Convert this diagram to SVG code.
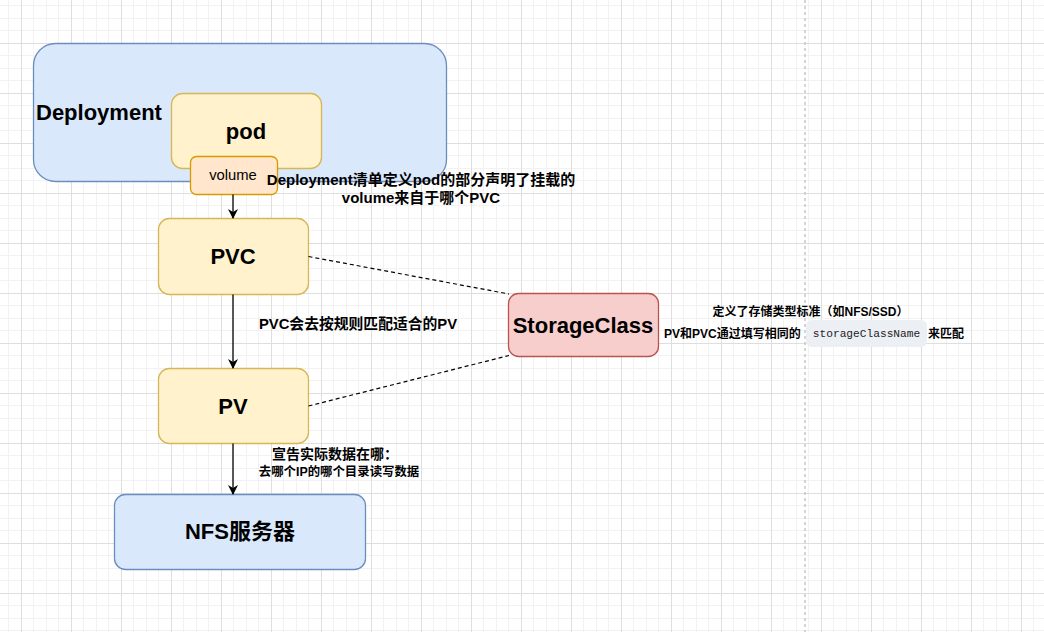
<svg xmlns="http://www.w3.org/2000/svg" width="1044" height="632" viewBox="0 0 1044 632">
  <style>
    .t { font-family: "Liberation Sans", "Noto Sans CJK SC", sans-serif; fill: #000; }
    .title { font-size: 22px; font-weight: bold; }
    .lbl { font-weight: bold; }
    .mono { font-family: "Liberation Mono", "DejaVu Sans Mono", monospace; fill: #1f2329; font-size: 11.2px; }
    .edge { stroke: #000; stroke-width: 1.3; fill: none; }
    .dash { stroke: #000; stroke-width: 1.2; fill: none; stroke-dasharray: 4 3; }
    .blue { fill: #dae8fc; stroke: #6c8ebf; stroke-width: 1.3; }
    .yellow { fill: #fff2cc; stroke: #d6b656; stroke-width: 1.3; }
    .orange { fill: #ffe6cc; stroke: #d79b00; stroke-width: 1.3; }
    .red { fill: #f8cecc; stroke: #b85450; stroke-width: 1.3; }
  </style>
  <defs>
    <pattern id="grid" x="21" y="43" width="50" height="50" patternUnits="userSpaceOnUse">
      <rect x="12" y="0" width="1" height="50" fill="#f2f2f2"/>
      <rect x="25" y="0" width="1" height="50" fill="#f2f2f2"/>
      <rect x="37" y="0" width="1" height="50" fill="#f2f2f2"/>
      <rect x="0" y="12" width="50" height="1" fill="#f2f2f2"/>
      <rect x="0" y="25" width="50" height="1" fill="#f2f2f2"/>
      <rect x="0" y="37" width="50" height="1" fill="#f2f2f2"/>
      <rect x="0" y="0" width="1" height="50" fill="#dedede"/>
      <rect x="0" y="0" width="50" height="1" fill="#dedede"/>
    </pattern>
    <marker id="arrow" viewBox="0 0 10 10" refX="9" refY="5" markerWidth="10" markerHeight="10" markerUnits="userSpaceOnUse" orient="auto">
      <path d="M0,0 L10,5 L0,10 L3,5 Z" fill="#000"/>
    </marker>
  </defs>

  <rect width="1044" height="632" fill="#ffffff"/>
  <rect width="1044" height="632" fill="url(#grid)"/>
  <line x1="805" y1="0" x2="805" y2="632" stroke="#c8c8c8" stroke-width="1.5" stroke-dasharray="3 3"/>

  <g id="deployment">
    <rect class="blue" x="33.5" y="43.5" width="413" height="138" rx="22"/>
    <text class="t title" x="36" y="112" dominant-baseline="central">Deployment</text>
  </g>

  <g id="pod">
    <rect class="yellow" x="171.5" y="93.5" width="150" height="75" rx="11"/>
    <text class="t title" x="246" y="131" text-anchor="middle" dominant-baseline="central">pod</text>
  </g>

  <g id="volume">
    <rect class="orange" x="190.5" y="156.5" width="87" height="38" rx="6"/>
    <text class="t" x="233" y="175" font-size="14.8" text-anchor="middle" dominant-baseline="central" fill="#1a1a1a">volume</text>
  </g>

  <g id="pvc">
    <rect class="yellow" x="158.5" y="218.5" width="150" height="76" rx="11"/>
    <text class="t title" x="233" y="256" text-anchor="middle" dominant-baseline="central">PVC</text>
  </g>

  <g id="pv">
    <rect class="yellow" x="158.5" y="368.5" width="150" height="75" rx="11"/>
    <text class="t title" x="233" y="406" text-anchor="middle" dominant-baseline="central">PV</text>
  </g>

  <g id="nfs">
    <rect class="blue" x="114.5" y="494.5" width="251" height="75" rx="11"/>
    <text class="t title" x="240" y="531" text-anchor="middle" dominant-baseline="central">NFS服务器</text>
  </g>

  <g id="storageclass">
    <rect class="red" x="508.5" y="293.5" width="150" height="63" rx="10"/>
    <text class="t title" x="583" y="325" text-anchor="middle" dominant-baseline="central">StorageClass</text>
  </g>

  <g id="connectors">
    <line class="edge" x1="233" y1="194.5" x2="233" y2="218" marker-end="url(#arrow)"/>
    <line class="edge" x1="233" y1="294.5" x2="233" y2="368" marker-end="url(#arrow)"/>
    <line class="edge" x1="233" y1="443.5" x2="233" y2="494" marker-end="url(#arrow)"/>
    <line class="dash" x1="308.5" y1="256.5" x2="509" y2="294"/>
    <line class="dash" x1="308.5" y1="406" x2="509" y2="355.5"/>
  </g>

  <g id="labels">
    <text class="t lbl" font-size="15" x="421" y="179" text-anchor="middle" dominant-baseline="central">Deployment清单定义pod的部分声明了挂载的</text>
    <text class="t lbl" font-size="15" x="421" y="197" text-anchor="middle" dominant-baseline="central">volume来自于哪个PVC</text>
    <text class="t lbl" font-size="14.8" x="358" y="324" text-anchor="middle" dominant-baseline="central">PVC会去按规则匹配适合的PV</text>
    <text class="t lbl" font-size="14" x="335" y="454" text-anchor="middle" dominant-baseline="central">宣告实际数据在哪：</text>
    <text class="t lbl" font-size="12.4" x="339" y="472" text-anchor="middle" dominant-baseline="central">去哪个IP的哪个目录读写数据</text>
    <text class="t lbl" font-size="12" x="810.5" y="312" text-anchor="middle" dominant-baseline="central">定义了存储类型标准（如NFS/SSD）</text>
    <text class="t lbl" font-size="12" x="664" y="333.5" dominant-baseline="central">PV和PVC通过填写相同的</text>
    <rect x="806" y="320" width="121" height="27" rx="6" fill="#eceff3"/>
    <text class="mono" x="866.5" y="333.5" text-anchor="middle" dominant-baseline="central">storageClassName</text>
    <text class="t lbl" font-size="12" x="928" y="333.5" dominant-baseline="central">来匹配</text>
  </g>
</svg>
